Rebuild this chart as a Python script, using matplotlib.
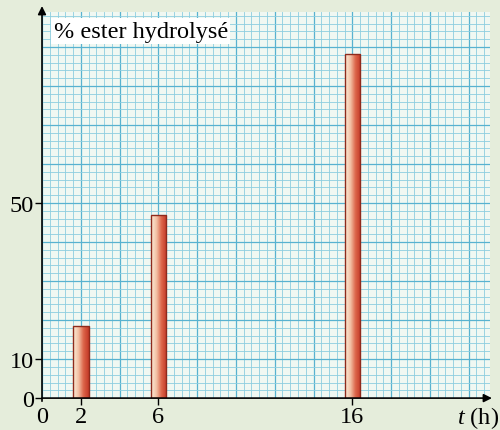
import numpy as np
import matplotlib.pyplot as plt
from matplotlib.colors import LinearSegmentedColormap

# data
times = [2, 6, 16]
percent_hydrolysed = [18.5, 47, 88.3]
x_tick_labels = ['0', '2', '6', '16']
y_tick_values = [0, 10, 50]

bg = '#e5eddb'
paper = '#f0f8f2'
minor_col = '#8ccee0'
major_col = '#58b2d0'

plt.rcParams['font.family'] = ['Liberation Serif', 'DejaVu Serif']
plt.rcParams['mathtext.fontset'] = 'custom'
plt.rcParams['mathtext.rm'] = 'Liberation Serif'
plt.rcParams['mathtext.it'] = 'Liberation Serif:italic'

fig = plt.figure(figsize=(5.0, 4.31), dpi=100, facecolor=bg)
ax = fig.add_axes([0.084, 0.074, 0.896, 0.896])
ax.set_facecolor(paper)

xmax, ymax = 23.1, 99
ax.set_xlim(0, xmax)
ax.set_ylim(0, ymax)

# graph paper
for xv in np.arange(0, xmax, 0.4):
    major = abs(xv / 2 - round(xv / 2)) < 1e-6
    ax.axvline(xv, color=major_col if major else minor_col,
               lw=0.9 if major else 0.6, zorder=1)
for yv in np.arange(0, ymax, 2):
    major = yv % 10 == 0
    ax.axhline(yv, color=major_col if major else minor_col,
               lw=0.9 if major else 0.6, zorder=1)

# bars with a cream -> red gradient
cmap = LinearSegmentedColormap.from_list('bar', ['#fcecd8', '#f3c2a6', '#dc6449', '#c33a28'])
grad = np.linspace(0, 1, 64).reshape(1, -1)
width = 0.8
bars = ax.bar(times, percent_hydrolysed, width=width, facecolor='none',
              edgecolor='#8e2a1c', lw=1.0, zorder=4)
for b in bars:
    x0, y0 = b.get_x(), b.get_y()
    im = ax.imshow(grad, cmap=cmap, aspect='auto', zorder=3,
                   extent=(x0, x0 + b.get_width(), y0, y0 + b.get_height()))
    im.set_clip_path(b)
ax.set_xlim(0, xmax)
ax.set_ylim(0, ymax)

# axes with arrows
for s in ['top', 'right', 'bottom', 'left']:
    ax.spines[s].set_visible(False)
ax.annotate('', xy=(xmax + 0.1, 0), xytext=(0, 0), annotation_clip=False,
            arrowprops=dict(arrowstyle='-|>', color='black', lw=1.2,
                            mutation_scale=12, shrinkA=0, shrinkB=0), zorder=6)
ax.annotate('', xy=(0, ymax + 1.5), xytext=(0, -0.8), annotation_clip=False,
            arrowprops=dict(arrowstyle='-|>', color='black', lw=1.2,
                            mutation_scale=12, shrinkA=0, shrinkB=0), zorder=6)

ax.set_xticks([0] + times)
ax.set_xticklabels(x_tick_labels)
ax.set_yticks(y_tick_values)
ax.set_yticklabels([str(v) for v in y_tick_values])
ax.tick_params(axis='x', direction='out', length=5, width=1, labelsize=17.5, pad=1)
ax.tick_params(axis='y', direction='out', length=5, width=1, labelsize=17.5, pad=1)
ax.xaxis.get_major_ticks()[0].tick1line.set_visible(False)

ax.text(0.6, 96.8, '% ester hydrolysé', fontsize=17.5, va='top', ha='left', zorder=7,
        bbox=dict(facecolor='white', edgecolor='none', pad=1.5))
fig.text(0.998, 0.0, r'$t$ (h)', fontsize=17.5, ha='right', va='bottom')

fig.savefig('out.png', dpi=100, facecolor=bg)
